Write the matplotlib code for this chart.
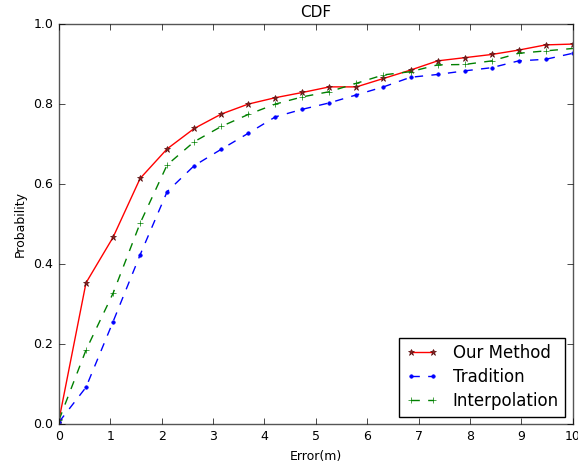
import matplotlib
matplotlib.use("Agg")
import matplotlib.pyplot as plt

plt.style.use("classic")

# error values (m) where the CDF was sampled
error_m = [0.0, 0.526, 1.053, 1.579, 2.105, 2.632, 3.158, 3.684, 4.211, 4.737,
           5.263, 5.789, 6.316, 6.842, 7.368, 7.895, 8.421, 8.947, 9.474, 10.0]

our_method = [0.01, 0.353, 0.467, 0.614, 0.688, 0.739, 0.775, 0.800, 0.816, 0.829,
              0.843, 0.843, 0.864, 0.885, 0.908, 0.916, 0.924, 0.935, 0.948, 0.950]
tradition = [0.005, 0.092, 0.256, 0.423, 0.581, 0.646, 0.687, 0.727, 0.768, 0.787,
             0.803, 0.823, 0.843, 0.867, 0.874, 0.883, 0.891, 0.908, 0.912, 0.927]
interpolation = [0.01, 0.185, 0.327, 0.502, 0.648, 0.706, 0.744, 0.774, 0.800, 0.818,
                 0.831, 0.852, 0.873, 0.881, 0.898, 0.899, 0.908, 0.927, 0.933, 0.939]
x_ticks = [0, 1, 2, 3, 4, 5, 6, 7, 8, 9, 10]

fig = plt.figure(figsize=(5.78, 4.63), dpi=100, facecolor="white")
ax = fig.add_axes([0.102, 0.084, 0.889, 0.864])

ax.plot(error_m, our_method, "r*-", label="Our Method", markersize=5,
        markeredgecolor="#5a1010", markerfacecolor="#8b2020")
ax.plot(error_m, tradition, "b.--", label="Tradition", markersize=5)
ax.plot(error_m, interpolation, "g+--", label="Interpolation", markersize=5)

ax.set_xlim(0, 10)
ax.set_ylim(0, 1)
ax.set_xticks(x_ticks)
ax.set_title("CDF", fontsize=11)
ax.set_xlabel("Error(m)", fontsize=9)
ax.set_ylabel("Probability", fontsize=9)
ax.tick_params(labelsize=9)
for s in ax.spines.values():
    s.set_edgecolor("#555555")
ax.legend(loc="lower right", fontsize=12, numpoints=2, handlelength=1.9,
          handletextpad=0.9, labelspacing=0.35, borderaxespad=0.45)

fig.savefig("out.png", dpi=100, facecolor="white")
